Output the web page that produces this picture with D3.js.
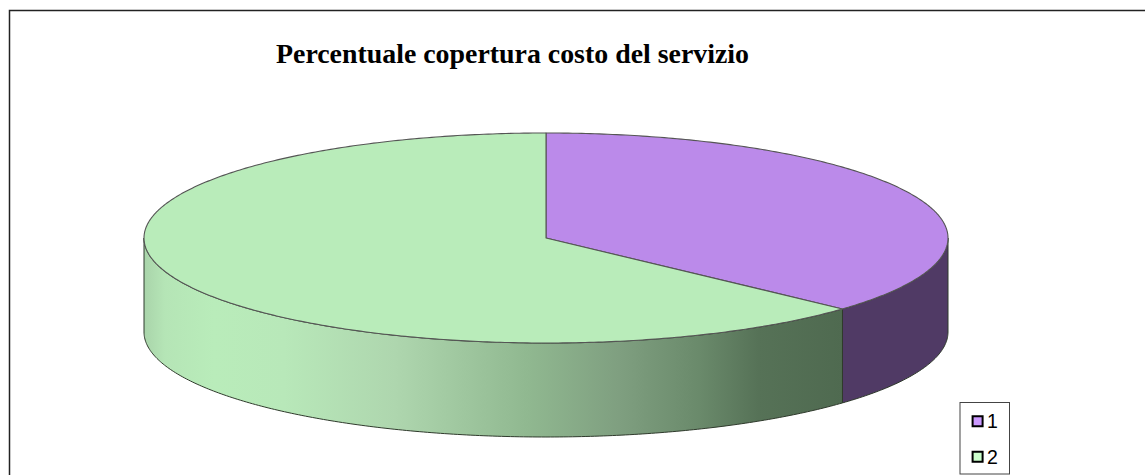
<!DOCTYPE html>
<html>
<head>
<meta charset="utf-8">
<script src="https://cdnjs.cloudflare.com/ajax/libs/d3/7.8.5/d3.min.js"></script>
<style>
html, body { margin: 0; padding: 0; background: #fff; overflow: hidden; }
svg { display: block; }
</style>
</head>
<body>
<svg id="chart" width="1145" height="475"></svg>
<script>
const chartTitle = 'Percentuale copertura costo del servizio';
const categories = ['1', '2'];
const values = [36.8, 63.2];
const topColors = ['#bb8aea', '#b9ecba'];
const sideColors = ['#503a65', 'url(#sideGreen)'];
const legendColors = ['#cc99ff', '#ccffcc'];

const svg = d3.select('#chart');

// frame of the chart area, open on the bottom and right side
svg.append('path')
    .attr('d', 'M9.5,475V10.5H1145')
    .attr('fill', 'none')
    .attr('stroke', '#222')
    .attr('stroke-width', 1.5);

svg.append('text')
    .attr('x', 276)
    .attr('y', 62.5)
    .attr('font-family', "'Liberation Serif', serif")
    .attr('font-weight', 'bold')
    .attr('font-size', 28)
    .attr('textLength', 473)
    .attr('lengthAdjust', 'spacingAndGlyphs')
    .attr('fill', '#000')
    .text(chartTitle);

// ellipse of the pie top
const xScale = d3.scaleLinear().domain([-1, 1]).range([144, 948]);
const yScale = d3.scaleLinear().domain([-1, 1]).range([133, 343]);
const depth = 94;

const pie = d3.pie().sort(null);
const arcs = pie(values);

const pointAt = a => [xScale(Math.sin(a)), yScale(-Math.cos(a))];

function arcPoints(a0, a1) {
    const n = Math.max(2, Math.ceil((a1 - a0) * 90));
    return d3.range(n + 1).map(i => pointAt(a0 + (a1 - a0) * i / n));
}

const line = d3.line();

// gradient on the green wall
const defs = svg.append('defs');
const grad = defs.append('linearGradient')
    .attr('id', 'sideGreen')
    .attr('gradientUnits', 'userSpaceOnUse')
    .attr('x1', xScale(-1)).attr('x2', pointAt(arcs[0].endAngle)[0])
    .attr('y1', 0).attr('y2', 0);
[[0, '#a9d4aa'], [0.03, '#b5e5b6'], [0.1, '#b9ecba'], [0.2, '#b8e8b9'],
 [0.36, '#aed6ae'], [0.55, '#90b890'], [0.68, '#7f9f80'], [0.795, '#6a8a6b'], [0.88, '#567257'], [1, '#4f6a50']]
    .forEach(s => grad.append('stop').attr('offset', s[0]).attr('stop-color', s[1]));

// visible wall = lower half of the ellipse
function wallPath(a0, a1) {
    const from = Math.max(a0, Math.PI / 2);
    const to = Math.min(a1, Math.PI * 1.5);
    const upper = arcPoints(from, to);
    const lower = upper.map(p => [p[0], p[1] + depth]).reverse();
    return line(upper.concat(lower)) + 'Z';
}

svg.selectAll('path.wall').data(arcs).enter().append('path')
    .attr('class', 'wall')
    .attr('d', d => wallPath(d.startAngle, d.endAngle))
    .attr('fill', (d, i) => sideColors[i])
    .attr('stroke', '#2f3a2c')
    .attr('stroke-width', 1)
    .attr('stroke-linejoin', 'round');

// top slices
svg.selectAll('path.slice').data(arcs).enter().append('path')
    .attr('class', 'slice')
    .attr('d', d => line([[xScale(0), yScale(0)]].concat(arcPoints(d.startAngle, d.endAngle))) + 'Z')
    .attr('fill', (d, i) => topColors[i])
    .attr('stroke', '#555')
    .attr('stroke-width', 1.1)
    .attr('stroke-linejoin', 'round');

// legend
const legendX = d3.scaleLinear().domain([0, 1]).range([960, 1009.5]);
const legendY = d3.scaleBand().domain(categories).range([403, 474]);

svg.append('rect')
    .attr('x', legendX(0))
    .attr('y', legendY.range()[0] - 0.5)
    .attr('width', legendX(1) - legendX(0))
    .attr('height', legendY.range()[1] - legendY.range()[0] + 0.5)
    .attr('fill', '#fff')
    .attr('stroke', '#444')
    .attr('stroke-width', 1);

const items = svg.selectAll('g.item').data(categories).enter().append('g')
    .attr('class', 'item')
    .attr('transform', d => `translate(${legendX(0)},${legendY(d) + legendY.bandwidth() / 2 + 0.5})`);

items.append('rect')
    .attr('x', 12.6)
    .attr('y', -5)
    .attr('width', 10)
    .attr('height', 10)
    .attr('fill', (d, i) => legendColors[i])
    .attr('stroke', '#000')
    .attr('stroke-width', 2);

items.append('text')
    .attr('x', 27)
    .attr('y', 7)
    .attr('font-family', "'Liberation Sans', Arial, sans-serif")
    .attr('font-size', 19.5)
    .attr('fill', '#000')
    .text(d => d);
</script>
</body>
</html>
